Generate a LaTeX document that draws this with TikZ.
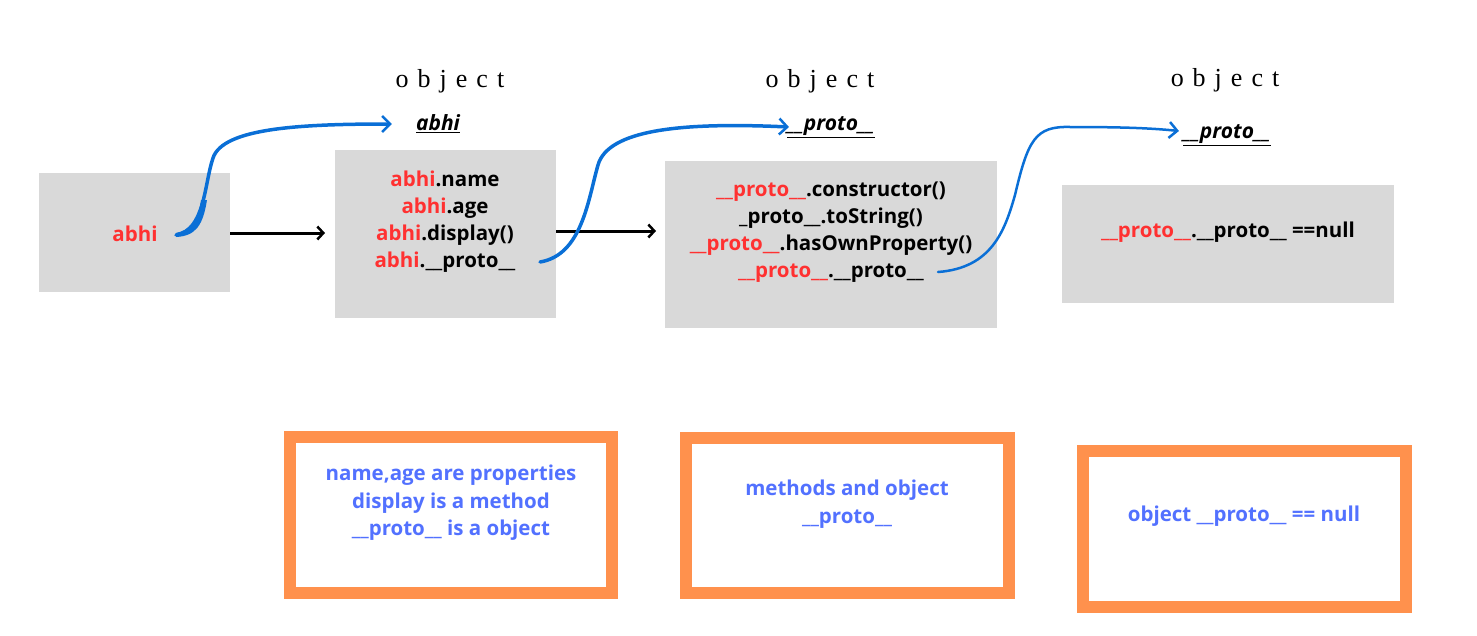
\documentclass[tikz,border=0pt]{standalone}
\usepackage{fontspec}
\setmainfont{Open Sans}
\newfontfamily\objfont{Liberation Serif}
\usetikzlibrary{arrows.meta}
\definecolor{boxgray}{HTML}{D9D9D9}
\definecolor{jsred}{HTML}{FF3131}
\definecolor{noteblue}{HTML}{5271FF}
\definecolor{noteorange}{HTML}{FF914D}
\definecolor{curveblue}{HTML}{0A6FD6}
\tikzset{
  graybox/.style={fill=boxgray, draw=none, inner sep=0pt, outer sep=0pt, anchor=north west},
  notebox/.style={draw=noteorange, line width=12pt, fill=white, inner sep=0pt, outer sep=0pt, anchor=north west},
  codetext/.style={font=\fontsize{20.5}{27}\selectfont\bfseries, align=center, text=black, inner sep=0pt},
  notetext/.style={font=\fontsize{20.5}{27.5}\selectfont\bfseries, align=center, text=noteblue, inner sep=0pt},
  objlabel/.style={font=\objfont\fontsize{26}{28}\selectfont, inner sep=0pt},
  reflabel/.style={font=\fontsize{21}{22}\selectfont\bfseries\itshape, inner sep=0pt},
  blackarrow/.style={line width=3pt, -{Straight Barb[length=6pt,width=13pt,line width=2.5pt]}},
  bluecurve/.style={draw=curveblue, line width=3.5pt, line cap=round, -{Straight Barb[length=8pt,width=16pt,line width=2.5pt]}},
}
\newcommand{\rd}[1]{\textcolor{jsred}{#1}}
\newcommand{\spacedobj}{o\hspace{9pt}b\hspace{9pt}j\hspace{9pt}e\hspace{9pt}c\hspace{9pt}t}
\begin{document}
\begin{tikzpicture}[x=1pt,y=-1pt]
\useasboundingbox (0,0) rectangle (1477,635);

% gray boxes
\node[graybox, minimum width=191pt, minimum height=119pt] (boxA) at (39,173) {};
\node[graybox, minimum width=221pt, minimum height=168pt] (boxB) at (335,150) {};
\node[graybox, minimum width=332pt, minimum height=167pt] (boxC) at (665,161) {};
\node[graybox, minimum width=332pt, minimum height=118pt] (boxD) at (1062,185) {};

% texts in gray boxes
\node[codetext] (tA) at (135,234) {\rd{abhi}};
\node[codetext] (tB) at (445,222) {\rd{abhi}.name\\\rd{abhi}.age\\\rd{abhi}.display()\\\rd{abhi}.\_\_proto\_\_};
\node[codetext] (tC) at (831,232) {\rd{\_\_proto\_\_}.constructor()\\\_proto\_\_.toString()\\\rd{\_\_proto\_\_}.hasOwnProperty()\\\rd{\_\_proto\_\_}.\_\_proto\_\_};
\node[codetext] (tD) at (1228,232) {\rd{\_\_proto\_\_}.\_\_proto\_\_ ==null};

% object labels
\node[objlabel] (o1) at (450,81) {\spacedobj};
\node[objlabel] (o2) at (820,81) {\spacedobj};
\node[objlabel] (o3) at (1225,80) {\spacedobj};

% reference labels
\node[reflabel] (r1) at (438,124) {\underline{abhi}};
\node[reflabel] (r2) at (831,127) {\underline{\_\_proto\_\_}};
\node[reflabel] (r3) at (1227,135) {\underline{\_\_proto\_\_}};

% note boxes
\node[notebox, minimum width=322pt, minimum height=156pt] (n1) at (290,437) {};
\node[notebox, minimum width=323pt, minimum height=155pt] (n2) at (686,438) {};
\node[notebox, minimum width=323pt, minimum height=156pt] (n3) at (1083,451) {};
\node[notetext] (nt1) at (451,503) {name,age are properties\\display is a method\\\_\_proto\_\_ is a object};
\node[notetext] (nt2) at (847,504) {methods and object\\\_\_proto\_\_};
\node[notetext] (nt3) at (1244,516) {object \_\_proto\_\_ == null};

% black arrows
\draw[blackarrow] (boxA.east |- 0,233) -- ([xshift=-10pt]boxB.west |- 0,233);
\draw[blackarrow] (boxB.east |- 0,231) -- ([xshift=-9pt]boxC.west |- 0,231);

% blue curves
\coordinate (c1s) at (176,235);
\coordinate (c1e) at ([xshift=-24pt]r1.west);
\fill[curveblue] (176,237) .. controls (196,236) and (203,225) .. (207,200) -- (201,200) .. controls (198,222) and (190,230) .. (176,233) -- cycle;
\draw[bluecurve] (c1s) .. controls (205,230) and (204,185) .. (213,158) .. controls (223,128) and (300,124) .. (c1e);

\coordinate (c2s) at (540,262);
\coordinate (c2e) at ([xshift=2pt]r2.west);
\draw[bluecurve] (c2s) .. controls (582,255) and (588,200) .. (598,165) .. controls (608,130) and (680,122) .. (c2e);

\coordinate (c3s) at (938,272);
\coordinate (c3e) at ([xshift=-4pt]r3.west |- 0,131);
\draw[bluecurve, line width=2.5pt] (c3s) .. controls (992,268) and (1005,230) .. (1015,195) .. controls (1028,140) and (1035,126) .. (1070,127) .. controls (1120,127) and (1150,128) .. (c3e);
\end{tikzpicture}
\end{document}
